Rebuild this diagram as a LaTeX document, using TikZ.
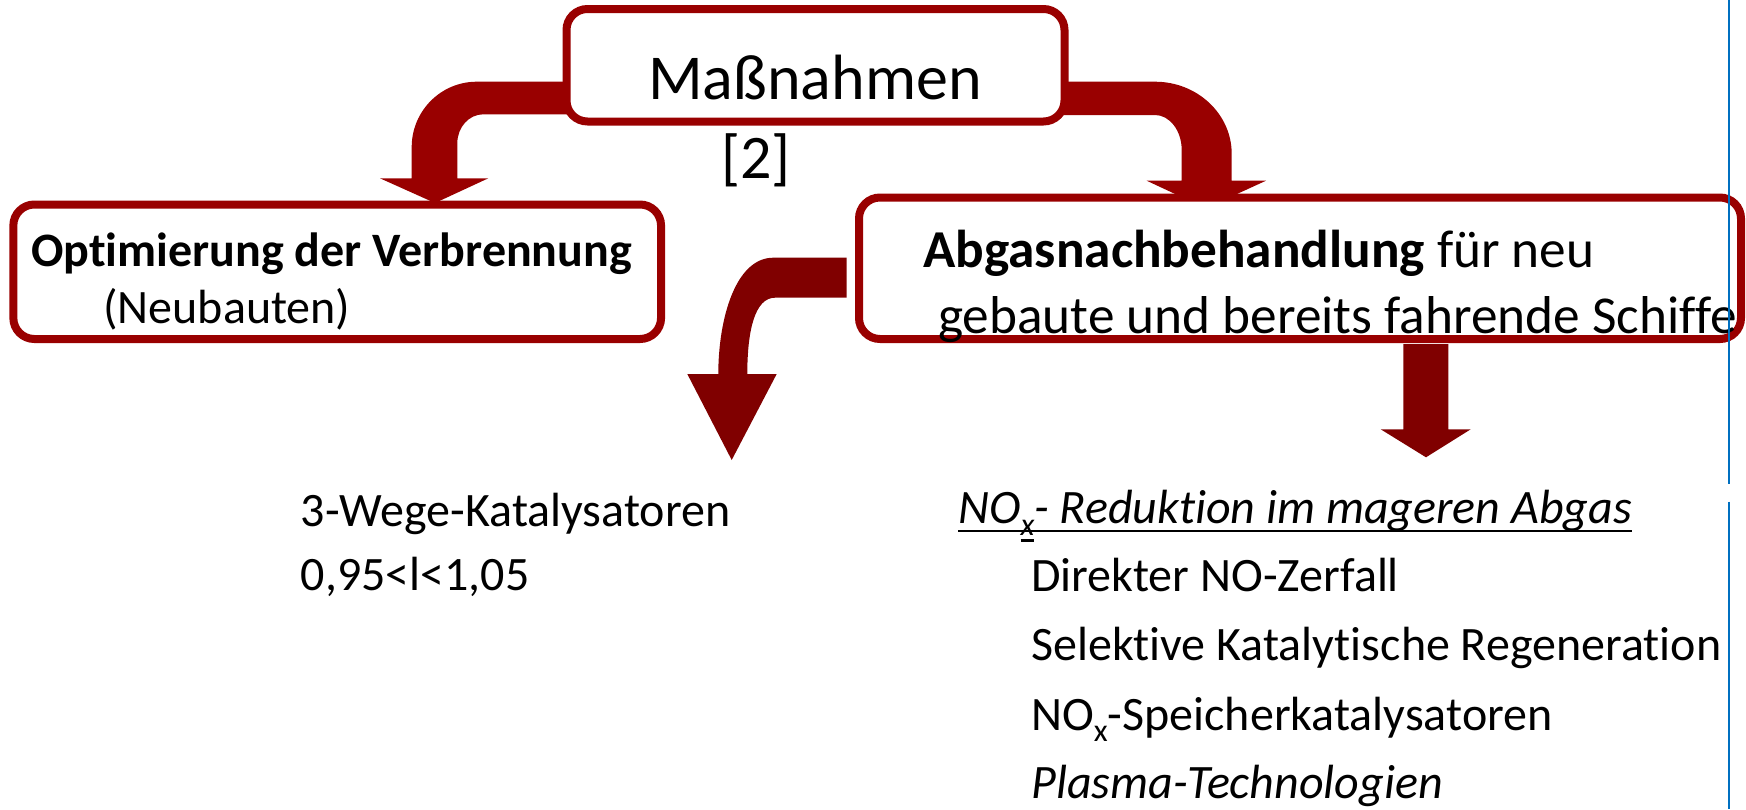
\documentclass[tikz,border=0pt]{standalone}
\usepackage{fontspec}
\setmainfont{Carlito}[Ligatures=NoCommon]
\usetikzlibrary{backgrounds}
\definecolor{boxred}{RGB}{153,0,0}
\definecolor{arrred}{RGB}{128,0,0}
\definecolor{lineblue}{RGB}{0,112,192}
\newsavebox\ulbox
\newsavebox\xbox
\newcommand\ulthis[1]{\sbox\ulbox{#1}\rlap{\rule[-9pt]{\wd\ulbox}{2.8pt}}\usebox\ulbox}
\newcommand\sbx[1]{\raisebox{-11.7pt}{\fontsize{32}{32}\selectfont #1}}
\newcommand\sbxul[1]{\raisebox{-11.7pt}{\fontsize{32}{32}\selectfont\sbox\xbox{#1}\rlap{\rule[-6.5pt]{\wd\xbox}{2.2pt}}\usebox\xbox}}
\begin{document}
\begin{tikzpicture}[x=1pt,y=-1pt,
  box/.style={draw=boxred, line width=8pt, rounded corners=21pt, fill=white, inner sep=0pt},
  txt/.style={inner sep=0pt, anchor=base west, font=\fontsize{48}{57}\selectfont},
  txtbig/.style={inner sep=0pt, anchor=base west, font=\fontsize{53.3}{62}\selectfont},
  toparrow/.style={fill=boxred},
  lowarrow/.style={fill=arrred},
  bluerule/.style={draw=lineblue, line width=2pt}]
\useasboundingbox (0,0) rectangle (1746,809);

% boxes
\node[box, minimum width=498pt, minimum height=112.5pt] (top) at (815.5,65.25) {};
\node[box, minimum width=647.7pt, minimum height=134.5pt] (left) at (337.2,271.75) {};
\node[box, minimum width=882pt, minimum height=141.5pt] (right) at (1300,268.25) {};

% block arrows (behind the boxes)
\begin{pgfonlayer}{background}
\path[toparrow] (570,81.7) -- (476.7,81.7) .. controls (440.8,81.7) and (411.7,111.1) .. (411.7,147)
  -- (411.7,178.3) -- (380,178.3) -- (435,203) -- (488.3,178.3) -- (457.3,178.3) -- (457.3,143.3)
  .. controls (457.3,127.3) and (468.9,114.3) .. (483.3,114.3) -- (570,114.3) -- cycle;
\path[toparrow] (1060,81.7) -- (1155,81.7) .. controls (1197.3,81.7) and (1231.7,114) .. (1231.7,153.7)
  -- (1231.7,180.7) -- (1266,180.7) -- (1205.7,208.3) -- (1146.7,180.7) -- (1181.7,180.7) -- (1181.7,150)
  .. controls (1181.7,130.7) and (1169.7,115) .. (1155,115) -- (1060,115) -- cycle;
\end{pgfonlayer}
\path[lowarrow] (846.7,257.7) -- (773.3,257.7) .. controls (735,257.7) and (718.3,320) .. (718.3,374)
  -- (687.3,374) -- (731.7,460) -- (776.7,374) -- (747.3,374)
  .. controls (747.3,330) and (755,297.7) .. (775,297.7) -- (846.7,297.7) -- cycle;
\path[lowarrow] (1403.3,344) -- (1403.3,429.3) -- (1380.7,429.3) -- (1426,457.3)
  -- (1470.7,429.3) -- (1448.3,429.3) -- (1448.3,344) -- cycle;

% texts
\node[inner sep=0pt, anchor=base, font=\fontsize{64}{72}\selectfont] (mass) at (815,99.3) {Maßnahmen};
\node[inner sep=0pt, anchor=base, font=\fontsize{62}{70}\selectfont] (ref) at (756,178) {[2]};
\node[txt] (opt1) at (31,266) {\textbf{Optimierung der Verbrennung}};
\node[txt] (opt2) at (103,323.3) {(Neubauten)};
\node[txtbig] (abg1) at (923,267.3) {\textbf{Abgasnachbehandlung} für neu};
\node[txtbig] (abg2) at (938,333.3) {gebaute und bereits fahrende Schiffe};
\node[txt] (kat1) at (300.6,526.7) {3-Wege-Katalysatoren};
\node[txt] (kat2) at (300.6,590) {0,95<l<1,05};
\node[txt] (nox0) at (958,523.3) {\itshape\ulthis{NO\sbxul{x}- Reduktion im mageren Abgas}};
\node[txt] (nox1) at (1031,591.7) {Direkter NO-Zerfall};
\node[txt] (nox2) at (1031,660) {Selektive Katalytische Regeneration};
\node[txt] (nox3) at (1031,730) {NO\sbx{x}-Speicherkatalysatoren};
\node[txt] (nox4) at (1031,798.3) {\itshape Plasma-Technologien};

% thin blue rule at the right
\coordinate (b1) at (1728.5,0);
\coordinate (b2) at (1728.5,484);
\coordinate (b3) at (1728.5,501.7);
\coordinate (b4) at (1728.5,809);
\path[bluerule] (b1) -- (b2);
\path[bluerule] (b3) -- (b4);
\end{tikzpicture}
\end{document}
